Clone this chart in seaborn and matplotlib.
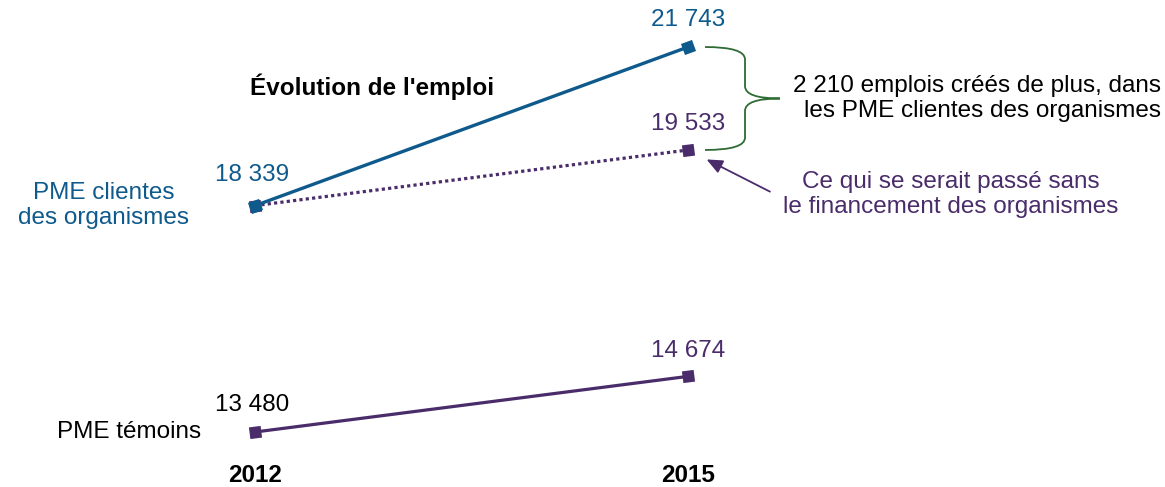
import matplotlib.pyplot as plt
from matplotlib.path import Path
from matplotlib.patches import PathPatch
import seaborn as sns
import pandas as pd
import numpy as np

# Chart data
years = [2012, 2015]
clientes = [18339, 21743]
sans_financement = [18339, 19533]
temoins = [13480, 14674]
year_labels = ['2012', '2015']

BLUE = '#0F5A8C'
PURPLE = '#4A2C6A'
GREEN = '#2F6B35'


def fmt(v):
    return f'{v:,}'.replace(',', ' ')


def brace(ax, x0, x1, x2, y_top, y_bot):
    y_mid = (y_top + y_bot) / 2
    r = 0.12 * (y_top - y_bot)
    verts = [(x0, y_top), (x1, y_top), (x1, y_top - r), (x1, y_mid + r),
             (x1, y_mid), (x2, y_mid), (x1, y_mid), (x1, y_mid - r),
             (x1, y_bot + r), (x1, y_bot), (x0, y_bot)]
    codes = [Path.MOVETO, Path.CURVE3, Path.CURVE3, Path.LINETO,
             Path.CURVE3, Path.CURVE3, Path.CURVE3, Path.CURVE3,
             Path.LINETO, Path.CURVE3, Path.CURVE3]
    ax.add_patch(PathPatch(Path(verts, codes), fill=False, edgecolor=GREEN, lw=1.3))


def line_angle(ax, ys):
    # angle of a segment on screen, so the square markers follow the line
    p = ax.transData.transform(np.column_stack([years, ys]))
    return np.degrees(np.arctan2(p[1, 1] - p[0, 1], p[1, 0] - p[0, 0]))


def emploi_chart():
    sns.set_theme(style='white')
    plt.rcParams['font.family'] = ['Liberation Sans', 'DejaVu Sans']
    plt.rcParams['text.color'] = 'black'
    plt.rcParams['xtick.color'] = 'black'

    df = pd.DataFrame({
        'year': years * 3,
        'emplois': clientes + sans_financement + temoins,
        'serie': ['clientes'] * 2 + ['sans'] * 2 + ['temoins'] * 2,
    })

    fig = plt.figure(figsize=(11.65, 4.87), dpi=100)
    ax = fig.add_axes([0, 29 / 487, 1, 458 / 487])
    ax.set_xlim(2010.233, 2018.305)
    ax.set_ylim(12922, 22752)

    a_cl = line_angle(ax, clientes)
    a_sf = line_angle(ax, sans_financement)
    a_tm = line_angle(ax, temoins)

    ms = 12
    sns.lineplot(data=df[df.serie == 'temoins'], x='year', y='emplois', color=PURPLE,
                 lw=2.3, marker=(4, 0, 45 + a_tm), markersize=ms, markeredgewidth=0, ax=ax)
    sns.lineplot(data=df[df.serie == 'sans'], x='year', y='emplois', color=PURPLE,
                 lw=2.3, dashes=(1, 1), marker=(4, 0, 45 + a_sf), markersize=ms, markeredgewidth=0, ax=ax)
    sns.lineplot(data=df[df.serie == 'clientes'], x='year', y='emplois', color=BLUE,
                 lw=2.4, marker=(4, 0, 45 + a_cl), markersize=ms, markeredgewidth=0, ax=ax)

    ax.set_xlim(2010.233, 2018.305)
    ax.set_ylim(12922, 22752)
    ax.set_xticks(years)
    ax.set_xticklabels(year_labels, fontsize=17.5, fontweight='bold')
    ax.tick_params(axis='x', length=0, pad=4)
    ax.set_yticks([])
    ax.set_xlabel('')
    ax.set_ylabel('')
    for s in ax.spines.values():
        s.set_visible(False)

    # value labels
    fs = 17.5
    ax.annotate(fmt(clientes[0]), (years[0], clientes[0]), xytext=(-2, 22), textcoords='offset points',
                ha='center', va='center', color=BLUE, fontsize=fs)
    ax.annotate(fmt(clientes[1]), (years[1], clientes[1]), xytext=(0, 19.5), textcoords='offset points',
                ha='center', va='center', color=BLUE, fontsize=fs)
    ax.annotate(fmt(sans_financement[1]), (years[1], sans_financement[1]), xytext=(0, 19), textcoords='offset points',
                ha='center', va='center', color=PURPLE, fontsize=fs)
    ax.annotate(fmt(temoins[0]), (years[0], temoins[0]), xytext=(-2, 19.5), textcoords='offset points',
                ha='center', va='center', color='black', fontsize=fs)
    ax.annotate(fmt(temoins[1]), (years[1], temoins[1]), xytext=(0, 18), textcoords='offset points',
                ha='center', va='center', color=PURPLE, fontsize=fs)

    # series names
    ax.annotate('PME clientes\ndes organismes', (years[0], clientes[0]), xytext=(-109, 0),
                textcoords='offset points', ha='center', va='center', color=BLUE, fontsize=fs,
                linespacing=1.15)
    ax.annotate('PME témoins', (years[0], temoins[0]), xytext=(-91, 0),
                textcoords='offset points', ha='center', va='center', color='black', fontsize=fs)

    fig.text(372 / 1165, 1 - 87 / 487, "Évolution de l'emploi", ha='center', va='center',
             fontsize=fs, fontweight='bold', color='black')

    # brace between the two 2015 points
    brace(ax, 2015.118, 2015.395, 2015.637, clientes[1], sans_financement[1])
    ax.text(2015.727, (clientes[1] + sans_financement[1]) / 2,
            '2 210 emplois créés de plus, dans\nles PME clientes des organismes',
            ha='left', va='center', multialignment='right', fontsize=fs, color='black',
            linespacing=1.15)

    # arrow to the counterfactual point
    ax.annotate('', xy=(years[1], sans_financement[1]), xytext=(59, -30), textcoords='offset points',
                arrowprops=dict(arrowstyle='-|>,head_length=0.8,head_width=0.35', color=PURPLE,
                                lw=1.3, shrinkA=0, shrinkB=15))
    ax.annotate('Ce qui se serait passé sans\nle financement des organismes',
                (years[1], sans_financement[1]), xytext=(189, -32), textcoords='offset points',
                ha='center', va='center', color=PURPLE, fontsize=fs, linespacing=1.15)

    fig.savefig('out.png', dpi=100)


emploi_chart()
